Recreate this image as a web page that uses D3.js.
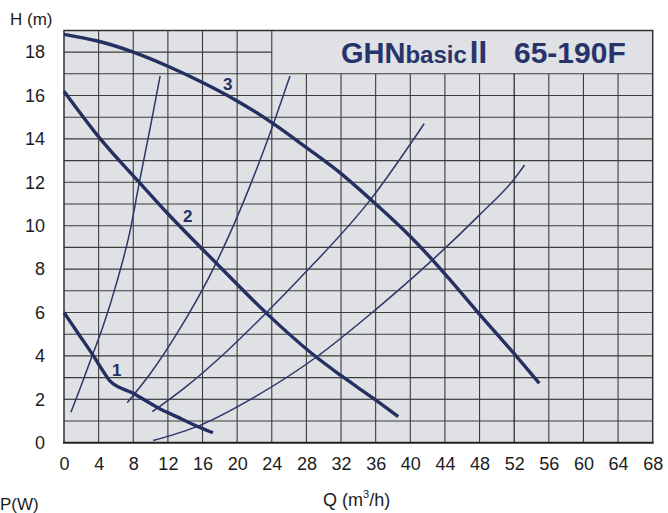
<!DOCTYPE html>
<meta charset="utf-8">
<style>
body{
  margin: 0;
  background: #fff;
}
svg text {
  font-family: "Liberation Sans", Arial, sans-serif;
}
.grid line {
  stroke: #3c3c3c;
  stroke-width: 1.1;
}
.tick text {
  fill: #1c1c1c;
}
</style>
<svg width="668" height="513"></svg>
<script src="https://d3js.org/d3.v7.min.js"></script>
<script>

// flow Q (m3/h) ticks and head H (m) ticks
var qTicks = [0, 4, 8, 12, 16, 20, 24, 28, 32, 36, 40, 44, 48, 52, 56, 60, 64, 68];
var hTicks = [0, 2, 4, 6, 8, 10, 12, 14, 16, 18];

// pump curves, speed 1..3  [Q, H]
var curve1 = [[0, 6.0], [1.7, 5.0], [3.4, 4.0], [4.6, 3.25], [5.3, 2.85], [8, 2.28], [10.9, 1.6], [13, 1.2], [15.3, 0.77], [17.2, 0.46]];
var curve2 = [[0, 16.2], [4.2, 14.0], [8.8, 11.95], [12, 10.55], [17.6, 8.27], [23.4, 5.96], [29.1, 3.96], [31.9, 3.12], [35.7, 2.05], [38.6, 1.2]];
var curve3 = [[0, 18.82], [4, 18.5], [8, 18.0], [12, 17.35], [16, 16.6], [20, 15.75], [24, 14.75], [28, 13.6], [32, 12.4], [36, 11.0], [40, 9.5], [42.5, 8.45], [44.6, 7.5], [47.6, 6.1], [52, 4.1], [54.9, 2.74]];

// system curves
var sys1 = [[0.8, 1.4], [2, 2.65], [3.2, 3.95], [4.5, 5.35], [6.1, 7.4], [7.6, 9.7], [8.7, 12.0], [10, 14.6], [11.1, 16.9]];
var sys2 = [[7.3, 1.84], [10, 3.2], [13, 5.0], [17.6, 8.3], [21.3, 11.65], [24.1, 14.6], [26.1, 16.9]];
var sys3 = [[10.2, 1.43], [14, 2.55], [18.5, 4.1], [23.4, 6.0], [27.3, 7.6], [35.4, 11.2], [41.6, 14.7]];
var sys4 = [[10.3, 0.1], [15.7, 0.8], [22, 2.1], [29.2, 3.96], [35.9, 6.1], [42.5, 8.4], [48, 10.5], [51.9, 12.1], [53.2, 12.8]];

var curveLabels = [["1", 6.1, 3.35], ["2", 14.3, 10.45], ["3", 18.9, 16.55]];

var svg = d3.select("svg");
var padL = 64, padR = 652.7, padT = 30.4, padB = 442.7;
var navy = "#242f62";

var x = d3.scaleLinear().domain([0, 68]).range([padL, padR]);
var y = d3.scaleLinear().domain([0, 19]).range([padB, padT]);

// plot background
svg.append("rect")
  .attr("x", x(0)).attr("y", y(19))
  .attr("width", x(68) - x(0)).attr("height", y(0) - y(19))
  .attr("fill", "#dfe1e4");

var grid = svg.append("g").attr("class", "grid");

// horizontal lines, the 18 line stops at Q=24 (title box)
grid.selectAll(".h")
  .data(d3.range(1, 19))
  .enter().append("line")
  .attr("x1", x(0))
  .attr("x2", function(d) { return d == 18 ? x(24) : x(68); })
  .attr("y1", function(d) { return y(d); })
  .attr("y2", function(d) { return y(d); })
  .style("stroke", function(d) { return d == 2 ? "#1a1a1a" : null; });

// vertical lines
grid.selectAll(".v")
  .data(d3.range(4, 68, 4))
  .enter().append("line")
  .attr("x1", function(d) { return x(d); })
  .attr("x2", function(d) { return x(d); })
  .attr("y1", y(0))
  .attr("y2", function(d) { return d <= 24 ? y(19) : y(17); })
  .style("stroke", function(d) { return d == 52 ? "#111" : null; });

// frame
svg.append("path")
  .attr("d", "M" + x(0) + "," + y(0) + "V" + y(19) + "H" + x(68) + "V" + y(0))
  .attr("fill", "none").attr("stroke", "#333").attr("stroke-width", 1.5);
svg.append("line")
  .attr("x1", x(0) - 1).attr("x2", x(68) + 1)
  .attr("y1", y(0)).attr("y2", y(0))
  .attr("stroke", "#222").attr("stroke-width", 2);

var line = d3.line()
  .x(function(d) { return x(d[0]); })
  .y(function(d) { return y(d[1]); })
  .curve(d3.curveMonotoneX);

svg.selectAll(".sys")
  .data([sys1, sys2, sys3, sys4])
  .enter().append("path")
  .attr("d", line)
  .attr("fill", "none")
  .attr("stroke", "#2c376a")
  .attr("stroke-width", 1.5);

svg.selectAll(".pump")
  .data([curve1, curve2, curve3])
  .enter().append("path")
  .attr("d", line)
  .attr("fill", "none")
  .attr("stroke", navy)
  .attr("stroke-width", 3.4);

svg.selectAll(".clabel")
  .data(curveLabels)
  .enter().append("text")
  .attr("x", function(d) { return x(d[1]); })
  .attr("y", function(d) { return y(d[2]); })
  .attr("dy", "0.36em")
  .attr("text-anchor", "middle")
  .style("font-size", "17px")
  .style("font-weight", "bold")
  .attr("fill", navy)
  .text(function(d) { return d[0]; });

// axes
var yAxis = svg.append("g")
  .attr("transform", "translate(" + padL + ",0)")
  .call(d3.axisLeft(y).tickValues(hTicks).tickSize(0).tickPadding(19));
yAxis.select(".domain").remove();
yAxis.selectAll("text").style("font-size", "18px");

var xAxis = svg.append("g")
  .attr("transform", "translate(0," + padB + ")")
  .call(d3.axisBottom(x).tickValues(qTicks).tickSize(0).tickPadding(15));
xAxis.select(".domain").remove();
xAxis.selectAll("text").style("font-size", "18px");

// axis titles
svg.append("text")
  .attr("x", 10).attr("y", 25)
  .style("font-size", "17px").attr("fill", "#1c1c1c")
  .text("H (m)");

svg.append("text")
  .attr("x", 0).attr("y", 510)
  .style("font-size", "17px").attr("fill", "#1c1c1c")
  .text("P(W)");

var qt = svg.append("text")
  .attr("x", 323).attr("y", 506)
  .style("font-size", "18px").attr("fill", "#1c1c1c");
qt.append("tspan").text("Q (m");
qt.append("tspan").attr("dy", -8).style("font-size", "11px").text("3");
qt.append("tspan").attr("dy", 8).text("/h)");

// title
var title = svg.append("text")
  .attr("x", 341).attr("y", 63)
  .attr("fill", "#27346c")
  .style("font-weight", "bold")
  .style("font-size", "29px");
title.append("tspan").text("GHN");
title.append("tspan").style("font-size", "24px").text("basic");
title.append("tspan").attr("dx", 3).style("font-size", "31px").text("II");

svg.append("text")
  .attr("x", 514).attr("y", 63)
  .attr("fill", "#27346c")
  .style("font-weight", "bold")
  .style("font-size", "30px")
  .text("65-190F");

</script>
